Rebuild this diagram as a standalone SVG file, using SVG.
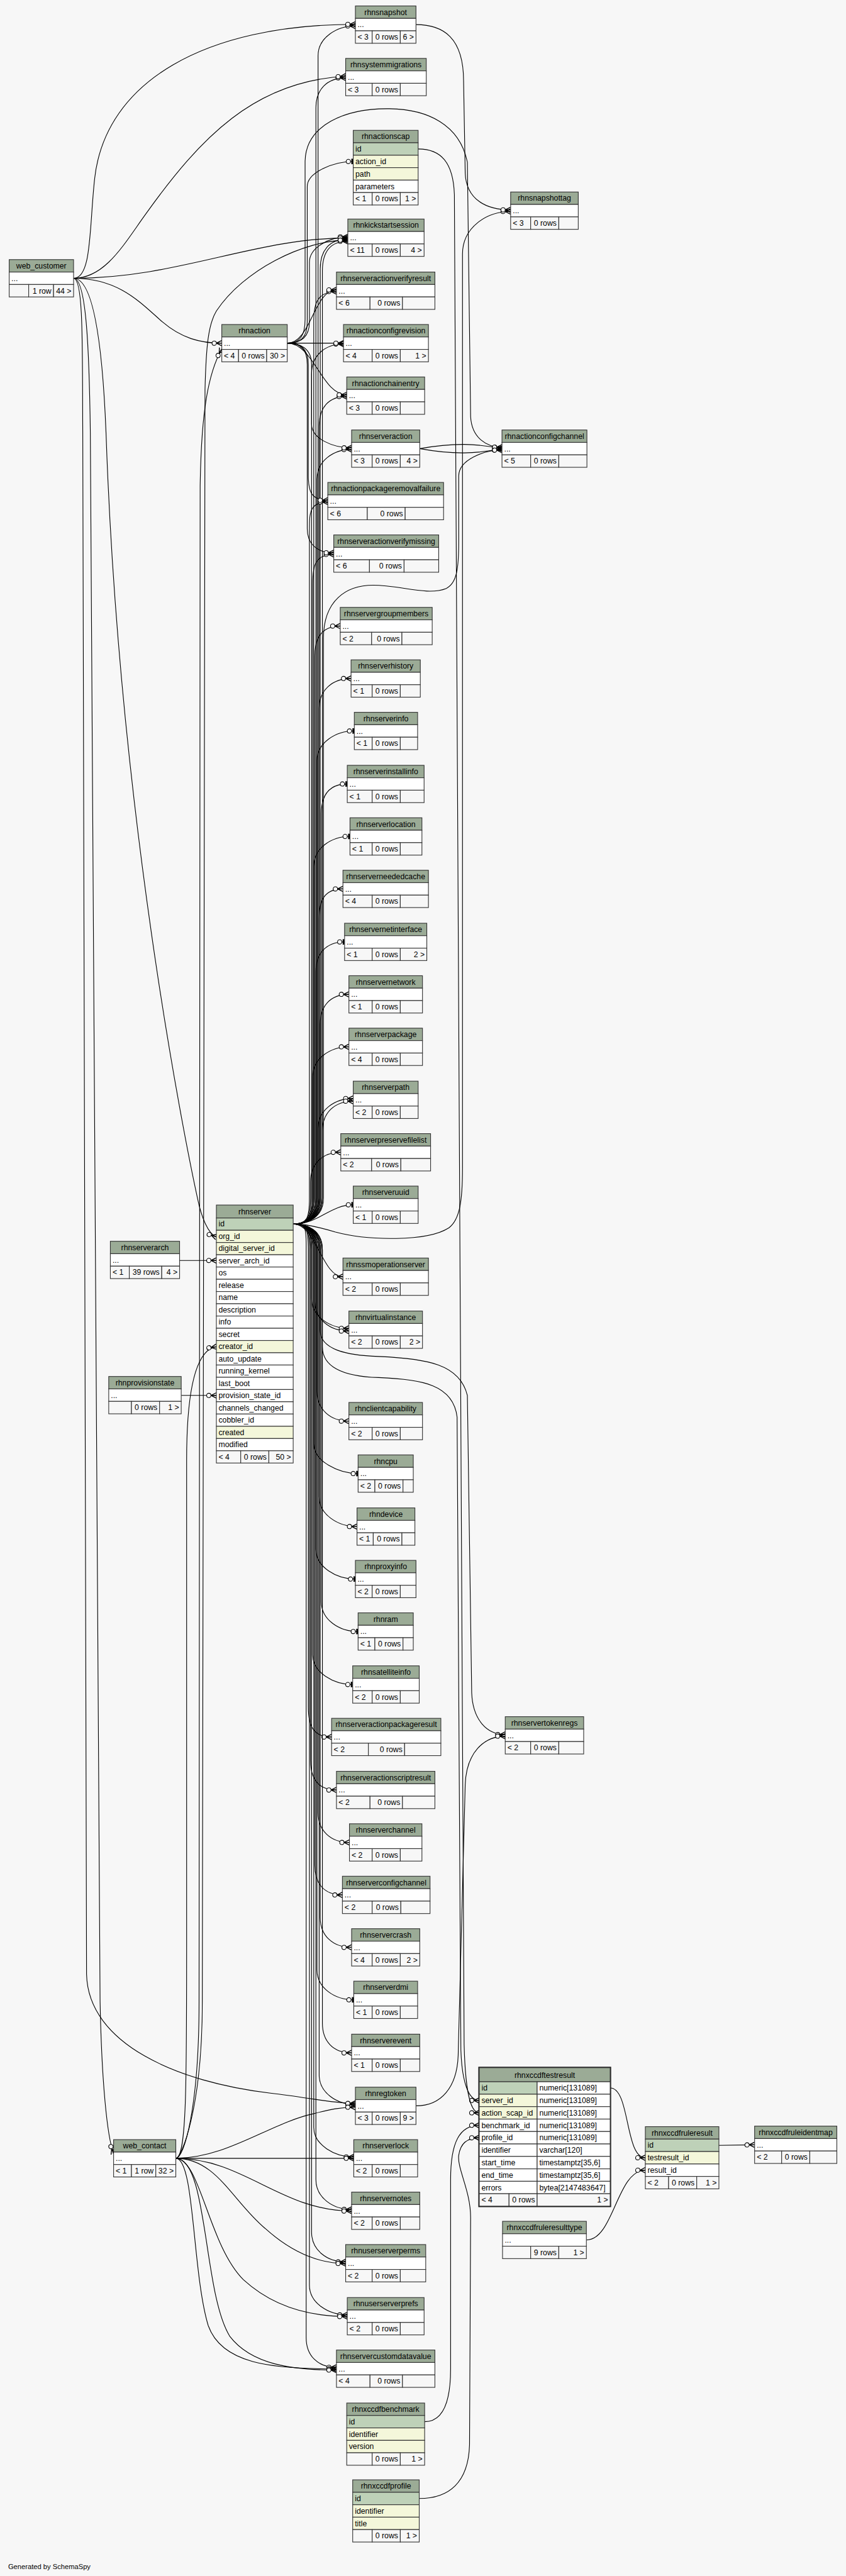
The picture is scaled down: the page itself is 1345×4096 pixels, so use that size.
<svg xmlns="http://www.w3.org/2000/svg" width="1345" height="4096" viewBox="0 0 1345 4096">
<style>
rect{stroke:#333;stroke-width:1.3}
.h{fill:#9bab96}.k{fill:#bed1b8}.f{fill:#f4f7da}.r{fill:#fff}.t{fill:#f7f7f7}
text{font-family:"Liberation Sans",Arial,Helvetica,sans-serif;font-size:14.3px;fill:#000}
.c{text-anchor:middle}.e{text-anchor:end}
#edges path{fill:none;stroke:#000;stroke-width:1.3}
.mc{marker-end:url(#crow)}.mt{marker-end:url(#tee)}
</style>
<defs>
<marker id="crow" markerUnits="userSpaceOnUse" orient="auto" markerWidth="24" markerHeight="16" viewBox="-20 -8 24 16" refX="0" refY="0" overflow="visible">
<path d="M-10,0 L0,-5 M-10,0 L0,0 M-10,0 L0,5" stroke="#000" stroke-width="1.6" fill="none"/>
<circle cx="-14" cy="0" r="4" fill="#fff" stroke="#000" stroke-width="1.3"/>
</marker>
<marker id="tee" markerUnits="userSpaceOnUse" orient="auto" markerWidth="24" markerHeight="16" viewBox="-20 -8 24 16" refX="0" refY="0" overflow="visible">
<rect x="-3.5" y="-5" width="3.5" height="10" style="fill:#000;stroke:none"/>
<circle cx="-9" cy="0" r="4" fill="#fff" stroke="#000" stroke-width="1.3"/>
</marker>
</defs>
<rect x="0" y="0" width="1345" height="4096" style="fill:#f7f7f7;stroke:none"/>
<g transform="scale(0.86)">
<g id="edges">
<path class="mc" d="M542,2263 C568,2263 588,2252 588,2215 L588,103 C588,70 622,48 657,48"/>
<path class="mc" d="M542,2263 C568,2263 584,2252 584,2215 L584,199 C584,166 604,144 639,144"/>
<path class="mc" d="M542,2263 C568,2263 592,2252 592,2215 L592,497 C592,464 608,442 643,442"/>
<path class="mc" d="M542,2263 C568,2263 596,2252 596,2215 L596,501 C596,468 608,446 643,446"/>
<path class="mc" d="M542,2263 C568,2263 580,2252 580,2215 L580,594 C580,561 587,539 622,539"/>
<path class="mc" d="M542,2263 C568,2263 576,2252 576,2215 L576,691 C576,658 600,636 635,636"/>
<path class="mc" d="M542,2263 C568,2263 590,2252 590,2215 L590,788 C590,755 606,733 641,733"/>
<path class="mc" d="M542,2263 C568,2263 586,2252 586,2215 L586,886 C586,853 615,831 650,831"/>
<path class="mc" d="M542,2263 C568,2263 572,2252 572,2215 L572,983 C572,950 571,928 606,928"/>
<path class="mc" d="M542,2263 C568,2263 578,2252 578,2215 L578,1080 C578,1047 582,1025 617,1025"/>
<path class="mc" d="M542,2263 C568,2263 582,2252 582,2215 L582,1212.5 C582,1179.5 594,1157.5 629,1157.5"/>
<path class="mc" d="M542,2263 C568,2263 590,2252 590,2215 L590,1309.5 C590,1276.5 614,1254.5 649,1254.5"/>
<path class="mt" d="M542,2263 C568,2263 586,2252 586,2215 L586,1406.5 C586,1373.5 620,1351.5 655,1351.5"/>
<path class="mt" d="M542,2263 C568,2263 594,2252 594,2215 L594,1504.5 C594,1471.5 607,1449.5 642,1449.5"/>
<path class="mt" d="M542,2263 C568,2263 580,2252 580,2215 L580,1601.5 C580,1568.5 612,1546.5 647,1546.5"/>
<path class="mc" d="M542,2263 C568,2263 590,2252 590,2215 L590,1698.5 C590,1665.5 599,1643.5 634,1643.5"/>
<path class="mt" d="M542,2263 C568,2263 584,2252 584,2215 L584,1796.5 C584,1763.5 602,1741.5 637,1741.5"/>
<path class="mc" d="M542,2263 C568,2263 592,2252 592,2215 L592,1893.5 C592,1860.5 610,1838.5 645,1838.5"/>
<path class="mc" d="M542,2263 C568,2263 578,2252 578,2215 L578,1990.5 C578,1957.5 610,1935.5 645,1935.5"/>
<path class="mc" d="M542,2263 C568,2263 588,2252 588,2215 L588,2086 C588,2053 618,2031 653,2031"/>
<path class="mc" d="M542,2263 C568,2263 596,2252 596,2215 L596,2091 C596,2058 618,2036 653,2036"/>
<path class="mc" d="M542,2263 C568,2263 574,2252 574,2215 L574,2185.5 C574,2152.5 595,2130.5 630,2130.5"/>
<path class="mt" d="M542,2263 C590,2263 610,2227.5 653,2227.5"/>
<path class="mc" d="M542,2263 C585,2263 595,2360.5 634,2360.5"/>
<path class="mc" d="M542,2263 C568,2263 576,2274 576,2311 L576,2401 C576,2434 610,2456 645,2456"/>
<path class="mc" d="M542,2263 C568,2263 582,2274 582,2311 L582,2406 C582,2439 610,2461 645,2461"/>
<path class="mc" d="M542,2263 C568,2263 586,2274 586,2311 L586,2572.5 C586,2605.5 610,2627.5 645,2627.5"/>
<path class="mt" d="M542,2263 C568,2263 580,2274 580,2311 L580,2669.5 C580,2702.5 627,2724.5 662,2724.5"/>
<path class="mc" d="M542,2263 C568,2263 590,2274 590,2311 L590,2767.5 C590,2800.5 625,2822.5 660,2822.5"/>
<path class="mt" d="M542,2263 C568,2263 584,2274 584,2311 L584,2864.5 C584,2897.5 622,2919.5 657,2919.5"/>
<path class="mt" d="M542,2263 C568,2263 594,2274 594,2311 L594,2961.5 C594,2994.5 627,3016.5 662,3016.5"/>
<path class="mt" d="M542,2263 C568,2263 578,2274 578,2311 L578,3059.5 C578,3092.5 617,3114.5 652,3114.5"/>
<path class="mc" d="M542,2263 C568,2263 570,2274 570,2311 L570,3156.5 C570,3189.5 578,3211.5 613,3211.5"/>
<path class="mc" d="M542,2263 C568,2263 574,2274 574,2311 L574,3254.5 C574,3287.5 587,3309.5 622,3309.5"/>
<path class="mc" d="M542,2263 C568,2263 588,2274 588,2311 L588,3351.5 C588,3384.5 611,3406.5 646,3406.5"/>
<path class="mc" d="M542,2263 C568,2263 582,2274 582,2311 L582,3448.5 C582,3481.5 598,3503.5 633,3503.5"/>
<path class="mc" d="M542,2263 C568,2263 592,2274 592,2311 L592,3545.5 C592,3578.5 615,3600.5 650,3600.5"/>
<path class="mt" d="M542,2263 C568,2263 586,2274 586,2311 L586,3642.5 C586,3675.5 619,3697.5 654,3697.5"/>
<path class="mc" d="M542,2263 C568,2263 596,2274 596,2311 L596,3740.5 C596,3773.5 615,3795.5 650,3795.5"/>
<path class="mc" d="M542,2263 C568,2263 590,2274 590,2311 L590,3836 C590,3869 622,3891 657,3891"/>
<path class="mc" d="M542,2263 C568,2263 580,2274 580,2311 L580,3933 C580,3966 619,3988 654,3988"/>
<path class="mc" d="M542,2263 C568,2263 584,2274 584,2311 L584,4030 C584,4063 615,4085 650,4085"/>
<path class="mc" d="M542,2263 C568,2263 576,2274 576,2311 L576,4127 C576,4160 604,4182 639,4182"/>
<path class="mc" d="M542,2263 C568,2263 572,2274 572,2311 L572,4225 C572,4258 607,4280 642,4280"/>
<path class="mc" d="M542,2263 C568,2263 566,2274 566,2311 L566,4322 C566,4355 587,4377 622,4377"/>
<path class="mc" d="M542,2263 C568,2263 594,2270 620,2278 C680,2294 790,2296 830,2270 C850,2255 855,2220 855,2160 L855,470 C855,420 900,391 944,391"/>
<path class="mc" d="M542,2263 C568,2263 598,2252 598,2215 L598,1180 C598,1110 640,1082 690,1082 C740,1082 790,1102 825,1088 C845,1078 848,1050 848,1000 L848,880 C848,850 895,832 928,832"/>
<path class="mc" d="M542,2263 C568,2263 596,2274 596,2311 L596,2490 C596,2530 640,2545 700,2547 C780,2550 838,2560 845,2620 L852,3790 C854,3850 866,3883.5 886,3883.5"/>
<path class="mc" d="M542,2263 C568,2263 592,2274 592,2311 L592,2460 C592,2495 640,2506 700,2508 C790,2512 850,2522 864,2580 L872,3130 C874,3180 900,3207 934,3207"/>
<path class="mc" d="M531,634.5 C555,634.5 572,625 572,595 L572,485 C572,458 608,438 643,438"/>
<path class="mc" d="M531,634.5 C575,634.5 580,536 622,536"/>
<path class="mt" d="M531,634.5 C555,634.5 568,625 568,595 L568,345 C568,318 618,298.5 653,298.5"/>
<path class="mc" d="M531,634.5 L635,634.5"/>
<path class="mc" d="M531,634.5 C580,634.5 595,730 641,730"/>
<path class="mc" d="M531,634.5 C555,634.5 576,644 576,674 L576,784 C576,811 615,828 650,828"/>
<path class="mc" d="M531,634.5 C555,634.5 570,644 570,674 L570,880 C570,908 575,925 606,925"/>
<path class="mc" d="M531,634.5 C555,634.5 568,644 568,674 L568,978 C568,1005 585,1022 617,1022"/>
<path class="mc" d="M531,634.5 C555,634.5 564,620 564,590 L564,300 C564,230 640,200 720,201 C790,202 850,230 864,300 L870,770 C872,810 900,827 928,827"/>
<path class="mc" d="M136,514.5 C170,514.5 165,420 175,330 C195,150 380,45 657,45"/>
<path class="mc" d="M136,514.5 C195,514.5 230,450 270,395 C370,255 470,150 639,141"/>
<path class="mc" d="M136,514.5 C330,514.5 470,440 643,440"/>
<path class="mc" d="M136,514.5 C220,514.5 260,560 300,595 C335,625 370,634.5 410,634.5"/>
<path class="mc" d="M136,514.5 C175,514.5 190,650 196,800 C220,1500 340,2100 365,2215 C372,2250 385,2282 400,2287"/>
<path class="mc" d="M136,514.5 C160,514.5 165,650 167,800 L185,3700 C188,3850 198,3950 210,3982"/>
<path class="mc" d="M136,514.5 C155,514.5 152,650 153,800 L160,3650 C163,3780 330,3850 500,3870 C570,3878 615,3889 657,3889"/>
<path class="mc" d="M325,3990.5 C420,3990.5 500,3925 580,3908 C610,3900 630,3896 657,3896"/>
<path class="mc" d="M325,3990.5 L654,3990.5"/>
<path class="mc" d="M325,3990.5 C450,3990.5 520,4088 650,4088"/>
<path class="mc" d="M325,3990.5 C400,3990.5 430,4070 490,4120 C540,4165 590,4185 639,4185"/>
<path class="mc" d="M325,3990.5 C370,3990.5 385,4150 450,4215 C510,4270 580,4283 642,4283"/>
<path class="mc" d="M325,3990.5 C360,3990.5 355,4200 385,4300 C410,4370 500,4380 622,4380"/>
<path class="mc" d="M325,3990.5 C385,3990.5 375,4240 425,4320 C465,4372 540,4382 622,4382"/>
<path class="mc" d="M325,3990.5 C345,3990.5 345,3850 345,3600 L345,2700 C345,2560 365,2495 400,2490"/>
<path class="mc" d="M325,3990.5 C340,3990.5 368,3900 368,3700 L370,900 C372,760 385,690 410,645"/>
<path class="mc" d="M325,3990.5 C335,3990.5 374,3900 374,3700 L379,720 C381,640 385,600 400,575 C450,500 560,444 643,444"/>
<path class="mc" d="M332,2330.5 L400,2330.5"/>
<path class="mc" d="M335,2580 L400,2580"/>
<path class="mc" d="M776,829.5 C840,818 880,820 928,829.5"/>
<path class="mc" d="M776,829.5 C840,841 880,839 928,829.5"/>
<path class="mc" d="M769,45.5 C820,45.5 857,70 857,150 L860,320 C862,370 900,388 944,388"/>
<path class="mc" d="M773,275.5 C815,275.5 838,300 840,360 L858,3780 C860,3860 868,3906.5 886,3906.5"/>
<path class="mc" d="M769,3893.5 C815,3893.5 845,3860 847,3800 L860,3300 C862,3240 895,3210 934,3210"/>
<path class="mc" d="M785,4477.5 C820,4477.5 833,4440 833,4380 L833,4030 C833,3960 850,3929.5 886,3929.5"/>
<path class="mc" d="M775,4619.5 C830,4619.5 866,4590 868,4520 L870,4100 C870,4050 845,4010 848,3985 C851,3963 865,3952.5 886,3952.5"/>
<path class="mc" d="M1128,3860.5 C1165,3860.5 1155,3989.5 1193,3989.5"/>
<path class="mc" d="M1084,4141.5 C1135,4141.5 1140,4012.5 1193,4012.5"/>
<path class="mc" d="M1329,3966.5 L1395,3965.5"/>
</g>

<g id="rhnsnapshot" transform="translate(657,11)"><rect class="h" width="112" height="23"/><text class="c" x="56" y="16.5">rhnsnapshot</text><rect class="r" y="23" width="112" height="23"/><text x="4" y="39.5">...</text><rect class="t" y="46" width="31" height="23"/><rect class="t" x="31" y="46" width="52" height="23"/><rect class="t" x="83" y="46" width="29" height="23"/><text x="4" y="62.5">&lt; 3</text><text class="e" x="79" y="62.5">0 rows</text><text class="e" x="108" y="62.5">6 &gt;</text></g>
<g id="rhnsystemmigrations" transform="translate(639,108)"><rect class="h" width="149" height="23"/><text class="c" x="74.5" y="16.5">rhnsystemmigrations</text><rect class="r" y="23" width="149" height="23"/><text x="4" y="39.5">...</text><rect class="t" y="46" width="49" height="23"/><rect class="t" x="49" y="46" width="52" height="23"/><rect class="t" x="101" y="46" width="48" height="23"/><text x="4" y="62.5">&lt; 3</text><text class="e" x="97" y="62.5">0 rows</text></g>
<g id="rhnactionscap" transform="translate(653,241)"><rect class="h" width="120" height="23"/><text class="c" x="60" y="16.5">rhnactionscap</text><rect class="k" y="23" width="120" height="23"/><text x="4" y="39.5">id</text><rect class="f" y="46" width="120" height="23"/><text x="4" y="62.5">action_id</text><rect class="f" y="69" width="120" height="23"/><text x="4" y="85.5">path</text><rect class="r" y="92" width="120" height="23"/><text x="4" y="108.5">parameters</text><rect class="t" y="115" width="35" height="23"/><rect class="t" x="35" y="115" width="52" height="23"/><rect class="t" x="87" y="115" width="33" height="23"/><text x="4" y="131.5">&lt; 1</text><text class="e" x="83" y="131.5">0 rows</text><text class="e" x="116" y="131.5">1 &gt;</text></g>
<g id="rhnkickstartsession" transform="translate(643,405)"><rect class="h" width="141" height="23"/><text class="c" x="70.5" y="16.5">rhnkickstartsession</text><rect class="r" y="23" width="141" height="23"/><text x="4" y="39.5">...</text><rect class="t" y="46" width="45" height="23"/><rect class="t" x="45" y="46" width="52" height="23"/><rect class="t" x="97" y="46" width="44" height="23"/><text x="4" y="62.5">&lt; 11</text><text class="e" x="93" y="62.5">0 rows</text><text class="e" x="137" y="62.5">4 &gt;</text></g>
<g id="rhnserveractionverifyresult" transform="translate(622,503)"><rect class="h" width="182" height="23"/><text class="c" x="91" y="16.5">rhnserveractionverifyresult</text><rect class="r" y="23" width="182" height="23"/><text x="4" y="39.5">...</text><rect class="t" y="46" width="62" height="23"/><rect class="t" x="62" y="46" width="60" height="23"/><rect class="t" x="122" y="46" width="60" height="23"/><text x="4" y="62.5">&lt; 6</text><text class="e" x="118" y="62.5">0 rows</text></g>
<g id="rhnactionconfigrevision" transform="translate(635,600)"><rect class="h" width="157" height="23"/><text class="c" x="78.5" y="16.5">rhnactionconfigrevision</text><rect class="r" y="23" width="157" height="23"/><text x="4" y="39.5">...</text><rect class="t" y="46" width="53" height="23"/><rect class="t" x="53" y="46" width="52" height="23"/><rect class="t" x="105" y="46" width="52" height="23"/><text x="4" y="62.5">&lt; 4</text><text class="e" x="101" y="62.5">0 rows</text><text class="e" x="153" y="62.5">1 &gt;</text></g>
<g id="rhnactionchainentry" transform="translate(641,697)"><rect class="h" width="144" height="23"/><text class="c" x="72" y="16.5">rhnactionchainentry</text><rect class="r" y="23" width="144" height="23"/><text x="4" y="39.5">...</text><rect class="t" y="46" width="47" height="23"/><rect class="t" x="47" y="46" width="52" height="23"/><rect class="t" x="99" y="46" width="45" height="23"/><text x="4" y="62.5">&lt; 3</text><text class="e" x="95" y="62.5">0 rows</text></g>
<g id="rhnserveraction" transform="translate(650,795)"><rect class="h" width="126" height="23"/><text class="c" x="63" y="16.5">rhnserveraction</text><rect class="r" y="23" width="126" height="23"/><text x="4" y="39.5">...</text><rect class="t" y="46" width="38" height="23"/><rect class="t" x="38" y="46" width="52" height="23"/><rect class="t" x="90" y="46" width="36" height="23"/><text x="4" y="62.5">&lt; 3</text><text class="e" x="86" y="62.5">0 rows</text><text class="e" x="122" y="62.5">4 &gt;</text></g>
<g id="rhnactionpackageremovalfailure" transform="translate(606,892)"><rect class="h" width="214" height="23"/><text class="c" x="107" y="16.5">rhnactionpackageremovalfailure</text><rect class="r" y="23" width="214" height="23"/><text x="4" y="39.5">...</text><rect class="t" y="46" width="73" height="23"/><rect class="t" x="73" y="46" width="70" height="23"/><rect class="t" x="143" y="46" width="71" height="23"/><text x="4" y="62.5">&lt; 6</text><text class="e" x="139" y="62.5">0 rows</text></g>
<g id="rhnserveractionverifymissing" transform="translate(617,989)"><rect class="h" width="194" height="23"/><text class="c" x="97" y="16.5">rhnserveractionverifymissing</text><rect class="r" y="23" width="194" height="23"/><text x="4" y="39.5">...</text><rect class="t" y="46" width="66" height="23"/><rect class="t" x="66" y="46" width="64" height="23"/><rect class="t" x="130" y="46" width="64" height="23"/><text x="4" y="62.5">&lt; 6</text><text class="e" x="126" y="62.5">0 rows</text></g>
<g id="rhnservergroupmembers" transform="translate(629,1123)"><rect class="h" width="170" height="23"/><text class="c" x="85" y="16.5">rhnservergroupmembers</text><rect class="r" y="23" width="170" height="23"/><text x="4" y="39.5">...</text><rect class="t" y="46" width="58" height="23"/><rect class="t" x="58" y="46" width="56" height="23"/><rect class="t" x="114" y="46" width="56" height="23"/><text x="4" y="62.5">&lt; 2</text><text class="e" x="110" y="62.5">0 rows</text></g>
<g id="rhnserverhistory" transform="translate(649,1220)"><rect class="h" width="128" height="23"/><text class="c" x="64" y="16.5">rhnserverhistory</text><rect class="r" y="23" width="128" height="23"/><text x="4" y="39.5">...</text><rect class="t" y="46" width="39" height="23"/><rect class="t" x="39" y="46" width="52" height="23"/><rect class="t" x="91" y="46" width="37" height="23"/><text x="4" y="62.5">&lt; 1</text><text class="e" x="87" y="62.5">0 rows</text></g>
<g id="rhnserverinfo" transform="translate(655,1317)"><rect class="h" width="117" height="23"/><text class="c" x="58.5" y="16.5">rhnserverinfo</text><rect class="r" y="23" width="117" height="23"/><text x="4" y="39.5">...</text><rect class="t" y="46" width="33" height="23"/><rect class="t" x="33" y="46" width="52" height="23"/><rect class="t" x="85" y="46" width="32" height="23"/><text x="4" y="62.5">&lt; 1</text><text class="e" x="81" y="62.5">0 rows</text></g>
<g id="rhnserverinstallinfo" transform="translate(642,1415)"><rect class="h" width="142" height="23"/><text class="c" x="71" y="16.5">rhnserverinstallinfo</text><rect class="r" y="23" width="142" height="23"/><text x="4" y="39.5">...</text><rect class="t" y="46" width="46" height="23"/><rect class="t" x="46" y="46" width="52" height="23"/><rect class="t" x="98" y="46" width="44" height="23"/><text x="4" y="62.5">&lt; 1</text><text class="e" x="94" y="62.5">0 rows</text></g>
<g id="rhnserverlocation" transform="translate(647,1512)"><rect class="h" width="133" height="23"/><text class="c" x="66.5" y="16.5">rhnserverlocation</text><rect class="r" y="23" width="133" height="23"/><text x="4" y="39.5">...</text><rect class="t" y="46" width="41" height="23"/><rect class="t" x="41" y="46" width="52" height="23"/><rect class="t" x="93" y="46" width="40" height="23"/><text x="4" y="62.5">&lt; 1</text><text class="e" x="89" y="62.5">0 rows</text></g>
<g id="rhnserverneededcache" transform="translate(634,1609)"><rect class="h" width="158" height="23"/><text class="c" x="79" y="16.5">rhnserverneededcache</text><rect class="r" y="23" width="158" height="23"/><text x="4" y="39.5">...</text><rect class="t" y="46" width="54" height="23"/><rect class="t" x="54" y="46" width="52" height="23"/><rect class="t" x="106" y="46" width="52" height="23"/><text x="4" y="62.5">&lt; 4</text><text class="e" x="102" y="62.5">0 rows</text></g>
<g id="rhnservernetinterface" transform="translate(637,1707)"><rect class="h" width="152" height="23"/><text class="c" x="76" y="16.5">rhnservernetinterface</text><rect class="r" y="23" width="152" height="23"/><text x="4" y="39.5">...</text><rect class="t" y="46" width="51" height="23"/><rect class="t" x="51" y="46" width="52" height="23"/><rect class="t" x="103" y="46" width="49" height="23"/><text x="4" y="62.5">&lt; 1</text><text class="e" x="99" y="62.5">0 rows</text><text class="e" x="148" y="62.5">2 &gt;</text></g>
<g id="rhnservernetwork" transform="translate(645,1804)"><rect class="h" width="136" height="23"/><text class="c" x="68" y="16.5">rhnservernetwork</text><rect class="r" y="23" width="136" height="23"/><text x="4" y="39.5">...</text><rect class="t" y="46" width="43" height="23"/><rect class="t" x="43" y="46" width="52" height="23"/><rect class="t" x="95" y="46" width="41" height="23"/><text x="4" y="62.5">&lt; 1</text><text class="e" x="91" y="62.5">0 rows</text></g>
<g id="rhnserverpackage" transform="translate(645,1901)"><rect class="h" width="136" height="23"/><text class="c" x="68" y="16.5">rhnserverpackage</text><rect class="r" y="23" width="136" height="23"/><text x="4" y="39.5">...</text><rect class="t" y="46" width="43" height="23"/><rect class="t" x="43" y="46" width="52" height="23"/><rect class="t" x="95" y="46" width="41" height="23"/><text x="4" y="62.5">&lt; 4</text><text class="e" x="91" y="62.5">0 rows</text></g>
<g id="rhnserverpath" transform="translate(653,1999)"><rect class="h" width="120" height="23"/><text class="c" x="60" y="16.5">rhnserverpath</text><rect class="r" y="23" width="120" height="23"/><text x="4" y="39.5">...</text><rect class="t" y="46" width="35" height="23"/><rect class="t" x="35" y="46" width="52" height="23"/><rect class="t" x="87" y="46" width="33" height="23"/><text x="4" y="62.5">&lt; 2</text><text class="e" x="83" y="62.5">0 rows</text></g>
<g id="rhnserverpreservefilelist" transform="translate(630,2096)"><rect class="h" width="166" height="23"/><text class="c" x="83" y="16.5">rhnserverpreservefilelist</text><rect class="r" y="23" width="166" height="23"/><text x="4" y="39.5">...</text><rect class="t" y="46" width="57" height="23"/><rect class="t" x="57" y="46" width="54" height="23"/><rect class="t" x="111" y="46" width="55" height="23"/><text x="4" y="62.5">&lt; 2</text><text class="e" x="107" y="62.5">0 rows</text></g>
<g id="rhnserveruuid" transform="translate(653,2193)"><rect class="h" width="120" height="23"/><text class="c" x="60" y="16.5">rhnserveruuid</text><rect class="r" y="23" width="120" height="23"/><text x="4" y="39.5">...</text><rect class="t" y="46" width="35" height="23"/><rect class="t" x="35" y="46" width="52" height="23"/><rect class="t" x="87" y="46" width="33" height="23"/><text x="4" y="62.5">&lt; 1</text><text class="e" x="83" y="62.5">0 rows</text></g>
<g id="rhnssmoperationserver" transform="translate(634,2326)"><rect class="h" width="158" height="23"/><text class="c" x="79" y="16.5">rhnssmoperationserver</text><rect class="r" y="23" width="158" height="23"/><text x="4" y="39.5">...</text><rect class="t" y="46" width="54" height="23"/><rect class="t" x="54" y="46" width="52" height="23"/><rect class="t" x="106" y="46" width="52" height="23"/><text x="4" y="62.5">&lt; 2</text><text class="e" x="102" y="62.5">0 rows</text></g>
<g id="rhnvirtualinstance" transform="translate(645,2424)"><rect class="h" width="136" height="23"/><text class="c" x="68" y="16.5">rhnvirtualinstance</text><rect class="r" y="23" width="136" height="23"/><text x="4" y="39.5">...</text><rect class="t" y="46" width="43" height="23"/><rect class="t" x="43" y="46" width="52" height="23"/><rect class="t" x="95" y="46" width="41" height="23"/><text x="4" y="62.5">&lt; 2</text><text class="e" x="91" y="62.5">0 rows</text><text class="e" x="132" y="62.5">2 &gt;</text></g>
<g id="rhnclientcapability" transform="translate(645,2593)"><rect class="h" width="136" height="23"/><text class="c" x="68" y="16.5">rhnclientcapability</text><rect class="r" y="23" width="136" height="23"/><text x="4" y="39.5">...</text><rect class="t" y="46" width="43" height="23"/><rect class="t" x="43" y="46" width="52" height="23"/><rect class="t" x="95" y="46" width="41" height="23"/><text x="4" y="62.5">&lt; 2</text><text class="e" x="91" y="62.5">0 rows</text></g>
<g id="rhncpu" transform="translate(662,2690)"><rect class="h" width="102" height="23"/><text class="c" x="51" y="16.5">rhncpu</text><rect class="r" y="23" width="102" height="23"/><text x="4" y="39.5">...</text><rect class="t" y="46" width="31" height="23"/><rect class="t" x="31" y="46" width="52" height="23"/><rect class="t" x="83" y="46" width="19" height="23"/><text x="4" y="62.5">&lt; 2</text><text class="e" x="79" y="62.5">0 rows</text></g>
<g id="rhndevice" transform="translate(660,2788)"><rect class="h" width="107" height="23"/><text class="c" x="53.5" y="16.5">rhndevice</text><rect class="r" y="23" width="107" height="23"/><text x="4" y="39.5">...</text><rect class="t" y="46" width="30" height="23"/><rect class="t" x="30" y="46" width="53" height="23"/><rect class="t" x="83" y="46" width="24" height="23"/><text x="4" y="62.5">&lt; 1</text><text class="e" x="79" y="62.5">0 rows</text></g>
<g id="rhnproxyinfo" transform="translate(657,2885)"><rect class="h" width="112" height="23"/><text class="c" x="56" y="16.5">rhnproxyinfo</text><rect class="r" y="23" width="112" height="23"/><text x="4" y="39.5">...</text><rect class="t" y="46" width="31" height="23"/><rect class="t" x="31" y="46" width="52" height="23"/><rect class="t" x="83" y="46" width="29" height="23"/><text x="4" y="62.5">&lt; 2</text><text class="e" x="79" y="62.5">0 rows</text></g>
<g id="rhnram" transform="translate(662,2982)"><rect class="h" width="102" height="23"/><text class="c" x="51" y="16.5">rhnram</text><rect class="r" y="23" width="102" height="23"/><text x="4" y="39.5">...</text><rect class="t" y="46" width="31" height="23"/><rect class="t" x="31" y="46" width="52" height="23"/><rect class="t" x="83" y="46" width="19" height="23"/><text x="4" y="62.5">&lt; 1</text><text class="e" x="79" y="62.5">0 rows</text></g>
<g id="rhnsatelliteinfo" transform="translate(652,3080)"><rect class="h" width="123" height="23"/><text class="c" x="61.5" y="16.5">rhnsatelliteinfo</text><rect class="r" y="23" width="123" height="23"/><text x="4" y="39.5">...</text><rect class="t" y="46" width="36" height="23"/><rect class="t" x="36" y="46" width="52" height="23"/><rect class="t" x="88" y="46" width="35" height="23"/><text x="4" y="62.5">&lt; 2</text><text class="e" x="84" y="62.5">0 rows</text></g>
<g id="rhnserveractionpackageresult" transform="translate(613,3177)"><rect class="h" width="202" height="23"/><text class="c" x="101" y="16.5">rhnserveractionpackageresult</text><rect class="r" y="23" width="202" height="23"/><text x="4" y="39.5">...</text><rect class="t" y="46" width="68" height="23"/><rect class="t" x="68" y="46" width="67" height="23"/><rect class="t" x="135" y="46" width="67" height="23"/><text x="4" y="62.5">&lt; 2</text><text class="e" x="131" y="62.5">0 rows</text></g>
<g id="rhnserveractionscriptresult" transform="translate(622,3275)"><rect class="h" width="182" height="23"/><text class="c" x="91" y="16.5">rhnserveractionscriptresult</text><rect class="r" y="23" width="182" height="23"/><text x="4" y="39.5">...</text><rect class="t" y="46" width="62" height="23"/><rect class="t" x="62" y="46" width="60" height="23"/><rect class="t" x="122" y="46" width="60" height="23"/><text x="4" y="62.5">&lt; 2</text><text class="e" x="118" y="62.5">0 rows</text></g>
<g id="rhnserverchannel" transform="translate(646,3372)"><rect class="h" width="134" height="23"/><text class="c" x="67" y="16.5">rhnserverchannel</text><rect class="r" y="23" width="134" height="23"/><text x="4" y="39.5">...</text><rect class="t" y="46" width="42" height="23"/><rect class="t" x="42" y="46" width="52" height="23"/><rect class="t" x="94" y="46" width="40" height="23"/><text x="4" y="62.5">&lt; 2</text><text class="e" x="90" y="62.5">0 rows</text></g>
<g id="rhnserverconfigchannel" transform="translate(633,3469)"><rect class="h" width="162" height="23"/><text class="c" x="81" y="16.5">rhnserverconfigchannel</text><rect class="r" y="23" width="162" height="23"/><text x="4" y="39.5">...</text><rect class="t" y="46" width="55" height="23"/><rect class="t" x="55" y="46" width="53" height="23"/><rect class="t" x="108" y="46" width="54" height="23"/><text x="4" y="62.5">&lt; 2</text><text class="e" x="104" y="62.5">0 rows</text></g>
<g id="rhnservercrash" transform="translate(650,3566)"><rect class="h" width="126" height="23"/><text class="c" x="63" y="16.5">rhnservercrash</text><rect class="r" y="23" width="126" height="23"/><text x="4" y="39.5">...</text><rect class="t" y="46" width="38" height="23"/><rect class="t" x="38" y="46" width="52" height="23"/><rect class="t" x="90" y="46" width="36" height="23"/><text x="4" y="62.5">&lt; 4</text><text class="e" x="86" y="62.5">0 rows</text><text class="e" x="122" y="62.5">2 &gt;</text></g>
<g id="rhnserverdmi" transform="translate(654,3663)"><rect class="h" width="118" height="23"/><text class="c" x="59" y="16.5">rhnserverdmi</text><rect class="r" y="23" width="118" height="23"/><text x="4" y="39.5">...</text><rect class="t" y="46" width="34" height="23"/><rect class="t" x="34" y="46" width="52" height="23"/><rect class="t" x="86" y="46" width="32" height="23"/><text x="4" y="62.5">&lt; 1</text><text class="e" x="82" y="62.5">0 rows</text></g>
<g id="rhnserverevent" transform="translate(650,3761)"><rect class="h" width="126" height="23"/><text class="c" x="63" y="16.5">rhnserverevent</text><rect class="r" y="23" width="126" height="23"/><text x="4" y="39.5">...</text><rect class="t" y="46" width="38" height="23"/><rect class="t" x="38" y="46" width="52" height="23"/><rect class="t" x="90" y="46" width="36" height="23"/><text x="4" y="62.5">&lt; 1</text><text class="e" x="86" y="62.5">0 rows</text></g>
<g id="rhnregtoken" transform="translate(657,3859)"><rect class="h" width="112" height="23"/><text class="c" x="56" y="16.5">rhnregtoken</text><rect class="r" y="23" width="112" height="23"/><text x="4" y="39.5">...</text><rect class="t" y="46" width="31" height="23"/><rect class="t" x="31" y="46" width="52" height="23"/><rect class="t" x="83" y="46" width="29" height="23"/><text x="4" y="62.5">&lt; 3</text><text class="e" x="79" y="62.5">0 rows</text><text class="e" x="108" y="62.5">9 &gt;</text></g>
<g id="rhnserverlock" transform="translate(654,3956)"><rect class="h" width="118" height="23"/><text class="c" x="59" y="16.5">rhnserverlock</text><rect class="r" y="23" width="118" height="23"/><text x="4" y="39.5">...</text><rect class="t" y="46" width="34" height="23"/><rect class="t" x="34" y="46" width="52" height="23"/><rect class="t" x="86" y="46" width="32" height="23"/><text x="4" y="62.5">&lt; 2</text><text class="e" x="82" y="62.5">0 rows</text></g>
<g id="rhnservernotes" transform="translate(650,4053)"><rect class="h" width="126" height="23"/><text class="c" x="63" y="16.5">rhnservernotes</text><rect class="r" y="23" width="126" height="23"/><text x="4" y="39.5">...</text><rect class="t" y="46" width="38" height="23"/><rect class="t" x="38" y="46" width="52" height="23"/><rect class="t" x="90" y="46" width="36" height="23"/><text x="4" y="62.5">&lt; 2</text><text class="e" x="86" y="62.5">0 rows</text></g>
<g id="rhnuserserverperms" transform="translate(639,4150)"><rect class="h" width="148" height="23"/><text class="c" x="74" y="16.5">rhnuserserverperms</text><rect class="r" y="23" width="148" height="23"/><text x="4" y="39.5">...</text><rect class="t" y="46" width="49" height="23"/><rect class="t" x="49" y="46" width="52" height="23"/><rect class="t" x="101" y="46" width="47" height="23"/><text x="4" y="62.5">&lt; 2</text><text class="e" x="97" y="62.5">0 rows</text></g>
<g id="rhnuserserverprefs" transform="translate(642,4248)"><rect class="h" width="142" height="23"/><text class="c" x="71" y="16.5">rhnuserserverprefs</text><rect class="r" y="23" width="142" height="23"/><text x="4" y="39.5">...</text><rect class="t" y="46" width="46" height="23"/><rect class="t" x="46" y="46" width="52" height="23"/><rect class="t" x="98" y="46" width="44" height="23"/><text x="4" y="62.5">&lt; 2</text><text class="e" x="94" y="62.5">0 rows</text></g>
<g id="rhnservercustomdatavalue" transform="translate(622,4345)"><rect class="h" width="182" height="23"/><text class="c" x="91" y="16.5">rhnservercustomdatavalue</text><rect class="r" y="23" width="182" height="23"/><text x="4" y="39.5">...</text><rect class="t" y="46" width="62" height="23"/><rect class="t" x="62" y="46" width="60" height="23"/><rect class="t" x="122" y="46" width="60" height="23"/><text x="4" y="62.5">&lt; 4</text><text class="e" x="118" y="62.5">0 rows</text></g>
<g id="rhnxccdfbenchmark" transform="translate(641,4443)"><rect class="h" width="144" height="23"/><text class="c" x="72" y="16.5">rhnxccdfbenchmark</text><rect class="k" y="23" width="144" height="23"/><text x="4" y="39.5">id</text><rect class="f" y="46" width="144" height="23"/><text x="4" y="62.5">identifier</text><rect class="f" y="69" width="144" height="23"/><text x="4" y="85.5">version</text><rect class="t" y="92" width="47" height="23"/><rect class="t" x="47" y="92" width="52" height="23"/><rect class="t" x="99" y="92" width="45" height="23"/><text class="e" x="95" y="108.5">0 rows</text><text class="e" x="140" y="108.5">1 &gt;</text></g>
<g id="rhnxccdfprofile" transform="translate(652,4585)"><rect class="h" width="123" height="23"/><text class="c" x="61.5" y="16.5">rhnxccdfprofile</text><rect class="k" y="23" width="123" height="23"/><text x="4" y="39.5">id</text><rect class="f" y="46" width="123" height="23"/><text x="4" y="62.5">identifier</text><rect class="f" y="69" width="123" height="23"/><text x="4" y="85.5">title</text><rect class="t" y="92" width="36" height="23"/><rect class="t" x="36" y="92" width="52" height="23"/><rect class="t" x="88" y="92" width="35" height="23"/><text class="e" x="84" y="108.5">0 rows</text><text class="e" x="119" y="108.5">1 &gt;</text></g>

<g id="rhnsnapshottag" transform="translate(944,355)"><rect class="h" width="125" height="23"/><text class="c" x="62.5" y="16.5">rhnsnapshottag</text><rect class="r" y="23" width="125" height="23"/><text x="4" y="39.5">...</text><rect class="t" y="46" width="37" height="23"/><rect class="t" x="37" y="46" width="52" height="23"/><rect class="t" x="89" y="46" width="36" height="23"/><text x="4" y="62.5">&lt; 3</text><text class="e" x="85" y="62.5">0 rows</text></g>
<g id="rhnactionconfigchannel" transform="translate(928,795)"><rect class="h" width="157" height="23"/><text class="c" x="78.5" y="16.5">rhnactionconfigchannel</text><rect class="r" y="23" width="157" height="23"/><text x="4" y="39.5">...</text><rect class="t" y="46" width="53" height="23"/><rect class="t" x="53" y="46" width="52" height="23"/><rect class="t" x="105" y="46" width="52" height="23"/><text x="4" y="62.5">&lt; 5</text><text class="e" x="101" y="62.5">0 rows</text></g>
<g id="rhnservertokenregs" transform="translate(934,3174)"><rect class="h" width="145" height="23"/><text class="c" x="72.5" y="16.5">rhnservertokenregs</text><rect class="r" y="23" width="145" height="23"/><text x="4" y="39.5">...</text><rect class="t" y="46" width="47" height="23"/><rect class="t" x="47" y="46" width="52" height="23"/><rect class="t" x="99" y="46" width="46" height="23"/><text x="4" y="62.5">&lt; 2</text><text class="e" x="95" y="62.5">0 rows</text></g>
<g id="rhnxccdfruleresult" transform="translate(1193,3932)"><rect class="h" width="136" height="23"/><text class="c" x="68" y="16.5">rhnxccdfruleresult</text><rect class="k" y="23" width="136" height="23"/><text x="4" y="39.5">id</text><rect class="f" y="46" width="136" height="23"/><text x="4" y="62.5">testresult_id</text><rect class="r" y="69" width="136" height="23"/><text x="4" y="85.5">result_id</text><rect class="t" y="92" width="43" height="23"/><rect class="t" x="43" y="92" width="52" height="23"/><rect class="t" x="95" y="92" width="41" height="23"/><text x="4" y="108.5">&lt; 2</text><text class="e" x="91" y="108.5">0 rows</text><text class="e" x="132" y="108.5">1 &gt;</text></g>
<g id="rhnxccdfruleidentmap" transform="translate(1395,3931)"><rect class="h" width="152" height="23"/><text class="c" x="76" y="16.5">rhnxccdfruleidentmap</text><rect class="r" y="23" width="152" height="23"/><text x="4" y="39.5">...</text><rect class="t" y="46" width="50" height="23"/><rect class="t" x="50" y="46" width="52" height="23"/><rect class="t" x="102" y="46" width="50" height="23"/><text x="4" y="62.5">&lt; 2</text><text class="e" x="98" y="62.5">0 rows</text></g>
<g id="rhnxccdfruleresulttype" transform="translate(929,4107)"><rect class="h" width="155" height="23"/><text class="c" x="77.5" y="16.5">rhnxccdfruleresulttype</text><rect class="r" y="23" width="155" height="23"/><text x="4" y="39.5">...</text><rect class="t" y="46" width="52" height="23"/><rect class="t" x="52" y="46" width="52" height="23"/><rect class="t" x="104" y="46" width="51" height="23"/><text class="e" x="100" y="62.5">9 rows</text><text class="e" x="151" y="62.5">1 &gt;</text></g>
<g id="web_customer" transform="translate(17,480)"><rect class="h" width="119" height="23"/><text class="c" x="59.5" y="16.5">web_customer</text><rect class="r" y="23" width="119" height="23"/><text x="4" y="39.5">...</text><rect class="t" y="46" width="36" height="23"/><rect class="t" x="36" y="46" width="46" height="23"/><rect class="t" x="82" y="46" width="37" height="23"/><text class="e" x="78" y="62.5">1 row</text><text class="e" x="115" y="62.5">44 &gt;</text></g>
<g id="rhnaction" transform="translate(410,600)"><rect class="h" width="121" height="23"/><text class="c" x="60.5" y="16.5">rhnaction</text><rect class="r" y="23" width="121" height="23"/><text x="4" y="39.5">...</text><rect class="t" y="46" width="31" height="23"/><rect class="t" x="31" y="46" width="52" height="23"/><rect class="t" x="83" y="46" width="38" height="23"/><text x="4" y="62.5">&lt; 4</text><text class="e" x="79" y="62.5">0 rows</text><text class="e" x="117" y="62.5">30 &gt;</text></g>
<g id="rhnserverarch" transform="translate(204,2295)"><rect class="h" width="128" height="23"/><text class="c" x="64" y="16.5">rhnserverarch</text><rect class="r" y="23" width="128" height="23"/><text x="4" y="39.5">...</text><rect class="t" y="46" width="35" height="23"/><rect class="t" x="35" y="46" width="60" height="23"/><rect class="t" x="95" y="46" width="33" height="23"/><text x="4" y="62.5">&lt; 1</text><text class="e" x="91" y="62.5">39 rows</text><text class="e" x="124" y="62.5">4 &gt;</text></g>
<g id="rhnprovisionstate" transform="translate(201,2545)"><rect class="h" width="134" height="23"/><text class="c" x="67" y="16.5">rhnprovisionstate</text><rect class="r" y="23" width="134" height="23"/><text x="4" y="39.5">...</text><rect class="t" y="46" width="42" height="23"/><rect class="t" x="42" y="46" width="52" height="23"/><rect class="t" x="94" y="46" width="40" height="23"/><text class="e" x="90" y="62.5">0 rows</text><text class="e" x="130" y="62.5">1 &gt;</text></g>
<g id="web_contact" transform="translate(210,3956)"><rect class="h" width="115" height="23"/><text class="c" x="57.5" y="16.5">web_contact</text><rect class="r" y="23" width="115" height="23"/><text x="4" y="39.5">...</text><rect class="t" y="46" width="33" height="23"/><rect class="t" x="33" y="46" width="45" height="23"/><rect class="t" x="78" y="46" width="37" height="23"/><text x="4" y="62.5">&lt; 1</text><text class="e" x="74" y="62.5">1 row</text><text class="e" x="111" y="62.5">32 &gt;</text></g>

<g id="rhnserver" transform="translate(400,2228)"><rect class="h" width="142" height="24"/><text class="c" x="71" y="17">rhnserver</text>
<rect class="k" y="24" width="142" height="22.65"/><text x="4" y="40">id</text>
<rect class="f" y="46.65" width="142" height="22.65"/><text x="4" y="62.65">org_id</text>
<rect class="f" y="69.3" width="142" height="22.65"/><text x="4" y="85.3">digital_server_id</text>
<rect class="r" y="91.95" width="142" height="22.65"/><text x="4" y="107.95">server_arch_id</text>
<rect class="r" y="114.6" width="142" height="22.65"/><text x="4" y="130.6">os</text>
<rect class="r" y="137.25" width="142" height="22.65"/><text x="4" y="153.25">release</text>
<rect class="r" y="159.9" width="142" height="22.65"/><text x="4" y="175.9">name</text>
<rect class="r" y="182.55" width="142" height="22.65"/><text x="4" y="198.55">description</text>
<rect class="r" y="205.2" width="142" height="22.65"/><text x="4" y="221.2">info</text>
<rect class="r" y="227.85" width="142" height="22.65"/><text x="4" y="243.85">secret</text>
<rect class="f" y="250.5" width="142" height="22.65"/><text x="4" y="266.5">creator_id</text>
<rect class="r" y="273.15" width="142" height="22.65"/><text x="4" y="289.15">auto_update</text>
<rect class="r" y="295.8" width="142" height="22.65"/><text x="4" y="311.8">running_kernel</text>
<rect class="r" y="318.45" width="142" height="22.65"/><text x="4" y="334.45">last_boot</text>
<rect class="r" y="341.1" width="142" height="22.65"/><text x="4" y="357.1">provision_state_id</text>
<rect class="r" y="363.75" width="142" height="22.65"/><text x="4" y="379.75">channels_changed</text>
<rect class="r" y="386.4" width="142" height="22.65"/><text x="4" y="402.4">cobbler_id</text>
<rect class="f" y="409.05" width="142" height="22.65"/><text x="4" y="425.05">created</text>
<rect class="r" y="431.7" width="142" height="22.65"/><text x="4" y="447.7">modified</text>
<rect class="t" y="454.35" width="45" height="22.65"/><rect class="t" x="45" y="454.35" width="52" height="22.65"/><rect class="t" x="97" y="454.35" width="45" height="22.65"/><text x="4" y="470.35">&lt; 4</text><text class="e" x="93" y="470.35">0 rows</text><text class="e" x="138" y="470.35">50 &gt;</text></g>

<g id="rhnxccdftestresult" transform="translate(886,3823)"><rect x="0" y="0" width="242" height="256" style="fill:#f7f7f7;stroke:#111;stroke-width:3.5"/>
<rect class="h" width="242" height="26"/><text class="c" x="121" y="18.5">rhnxccdftestresult</text>
<rect class="k" y="26" width="107" height="23"/><rect class="r" x="107" y="26" width="135" height="23"/><text x="4" y="42.5">id</text><text x="111" y="42.5">numeric[131089]</text>
<rect class="f" y="49" width="107" height="23"/><rect class="r" x="107" y="49" width="135" height="23"/><text x="4" y="65.5">server_id</text><text x="111" y="65.5">numeric[131089]</text>
<rect class="f" y="72" width="107" height="23"/><rect class="r" x="107" y="72" width="135" height="23"/><text x="4" y="88.5">action_scap_id</text><text x="111" y="88.5">numeric[131089]</text>
<rect class="r" y="95" width="107" height="23"/><rect class="r" x="107" y="95" width="135" height="23"/><text x="4" y="111.5">benchmark_id</text><text x="111" y="111.5">numeric[131089]</text>
<rect class="r" y="118" width="107" height="23"/><rect class="r" x="107" y="118" width="135" height="23"/><text x="4" y="134.5">profile_id</text><text x="111" y="134.5">numeric[131089]</text>
<rect class="r" y="141" width="107" height="23"/><rect class="r" x="107" y="141" width="135" height="23"/><text x="4" y="157.5">identifier</text><text x="111" y="157.5">varchar[120]</text>
<rect class="r" y="164" width="107" height="23"/><rect class="r" x="107" y="164" width="135" height="23"/><text x="4" y="180.5">start_time</text><text x="111" y="180.5">timestamptz[35,6]</text>
<rect class="r" y="187" width="107" height="23"/><rect class="r" x="107" y="187" width="135" height="23"/><text x="4" y="203.5">end_time</text><text x="111" y="203.5">timestamptz[35,6]</text>
<rect class="r" y="210" width="107" height="23"/><rect class="r" x="107" y="210" width="135" height="23"/><text x="4" y="226.5">errors</text><text x="111" y="226.5">bytea[2147483647]</text>
<rect class="t" y="233" width="55" height="23"/><rect class="t" x="55" y="233" width="52" height="23"/><rect class="t" x="107" y="233" width="135" height="23"/><text x="4" y="249.5">&lt; 4</text><text class="e" x="103" y="249.5">0 rows</text><text class="e" x="238" y="249.5">1 &gt;</text></g>

<text x="15" y="4750" style="font-size:13px">Generated by SchemaSpy</text>
</g>
</svg>
